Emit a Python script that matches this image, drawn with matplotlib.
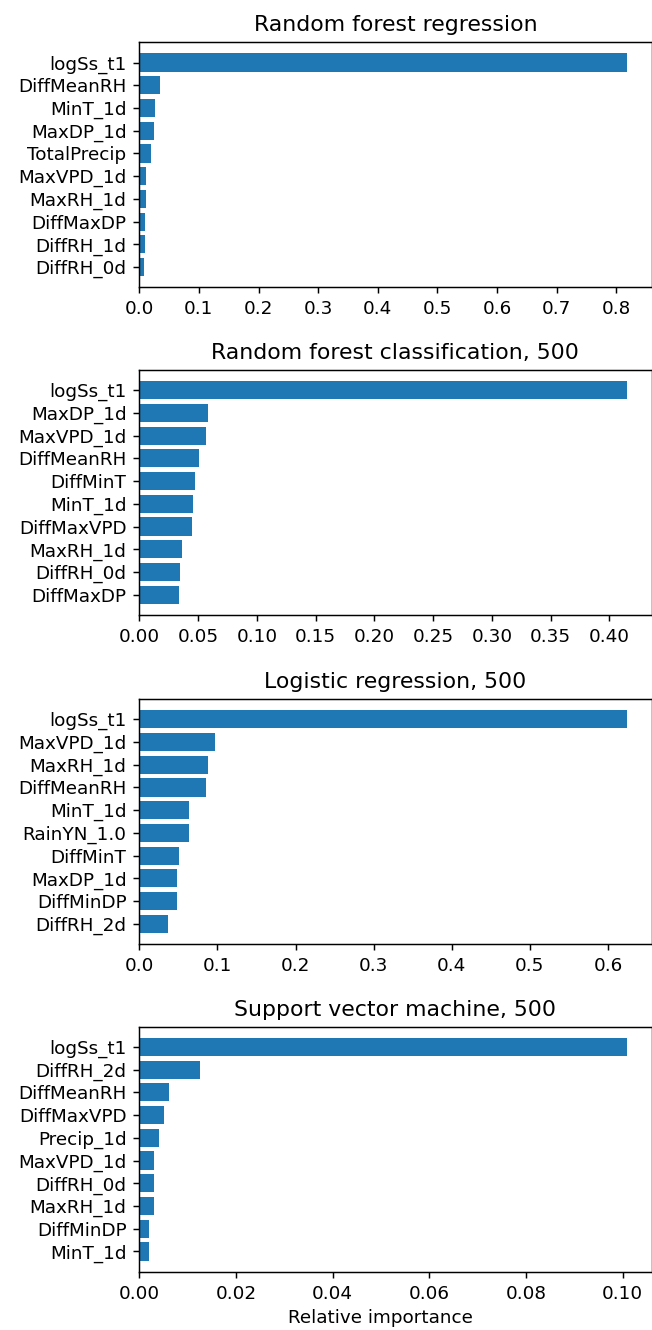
import matplotlib
matplotlib.use('Agg')
import matplotlib.pyplot as plt


# Feature importances, top feature first.
rf_reg_features = ['logSs_t1', 'DiffMeanRH', 'MinT_1d', 'MaxDP_1d', 'TotalPrecip',
                   'MaxVPD_1d', 'MaxRH_1d', 'DiffMaxDP', 'DiffRH_1d', 'DiffRH_0d']
rf_reg_values = [0.818, 0.035, 0.026, 0.024, 0.019, 0.011, 0.011, 0.009, 0.0088, 0.0073]

rf_clf_features = ['logSs_t1', 'MaxDP_1d', 'MaxVPD_1d', 'DiffMeanRH', 'DiffMinT',
                   'MinT_1d', 'DiffMaxVPD', 'MaxRH_1d', 'DiffRH_0d', 'DiffMaxDP']
rf_clf_values = [0.415, 0.0584, 0.057, 0.0505, 0.047, 0.046, 0.045, 0.0366, 0.035, 0.0335]

logreg_features = ['logSs_t1', 'MaxVPD_1d', 'MaxRH_1d', 'DiffMeanRH', 'MinT_1d',
                   'RainYN_1.0', 'DiffMinT', 'MaxDP_1d', 'DiffMinDP', 'DiffRH_2d']
logreg_values = [0.6245, 0.097, 0.088, 0.085, 0.063, 0.063, 0.0505, 0.0487, 0.048, 0.037]

svm_features = ['logSs_t1', 'DiffRH_2d', 'DiffMeanRH', 'DiffMaxVPD', 'Precip_1d',
                'MaxVPD_1d', 'DiffRH_0d', 'MaxRH_1d', 'DiffMinDP', 'MinT_1d']
svm_values = [0.1009, 0.01255, 0.0062, 0.0052, 0.0041, 0.003, 0.003, 0.003, 0.002, 0.002]

titles = ['Random forest regression', 'Random forest classification, 500',
          'Logistic regression, 500', 'Support vector machine, 500']

# Layout (pixels of the 652x1330 output).
width_px, height_px = 652, 1330
dpi = 132
ax_left, ax_right = 139.3, 651.5
ax_bottoms = [287.3, 615.0, 944.0, 1271.7]
ax_height = 245.0


def plot_importance(ax, features, values, title):
    ax.barh(features[::-1], values[::-1], color='#1f77b4')
    ax.set_title(title)


fig = plt.figure(figsize=(width_px / dpi, height_px / dpi), dpi=dpi)
panels = [(rf_reg_features, rf_reg_values),
          (rf_clf_features, rf_clf_values),
          (logreg_features, logreg_values),
          (svm_features, svm_values)]
for (features, values), title, bottom in zip(panels, titles, ax_bottoms):
    ax = fig.add_axes([ax_left / width_px, 1.0 - bottom / height_px,
                       (ax_right - ax_left) / width_px, ax_height / height_px])
    plot_importance(ax, features, values, title)

fig.text(380.5 / width_px, 1.0 - 1318 / height_px, 'Relative importance',
         ha='center', va='center')

fig.savefig('out.png', dpi=dpi)
